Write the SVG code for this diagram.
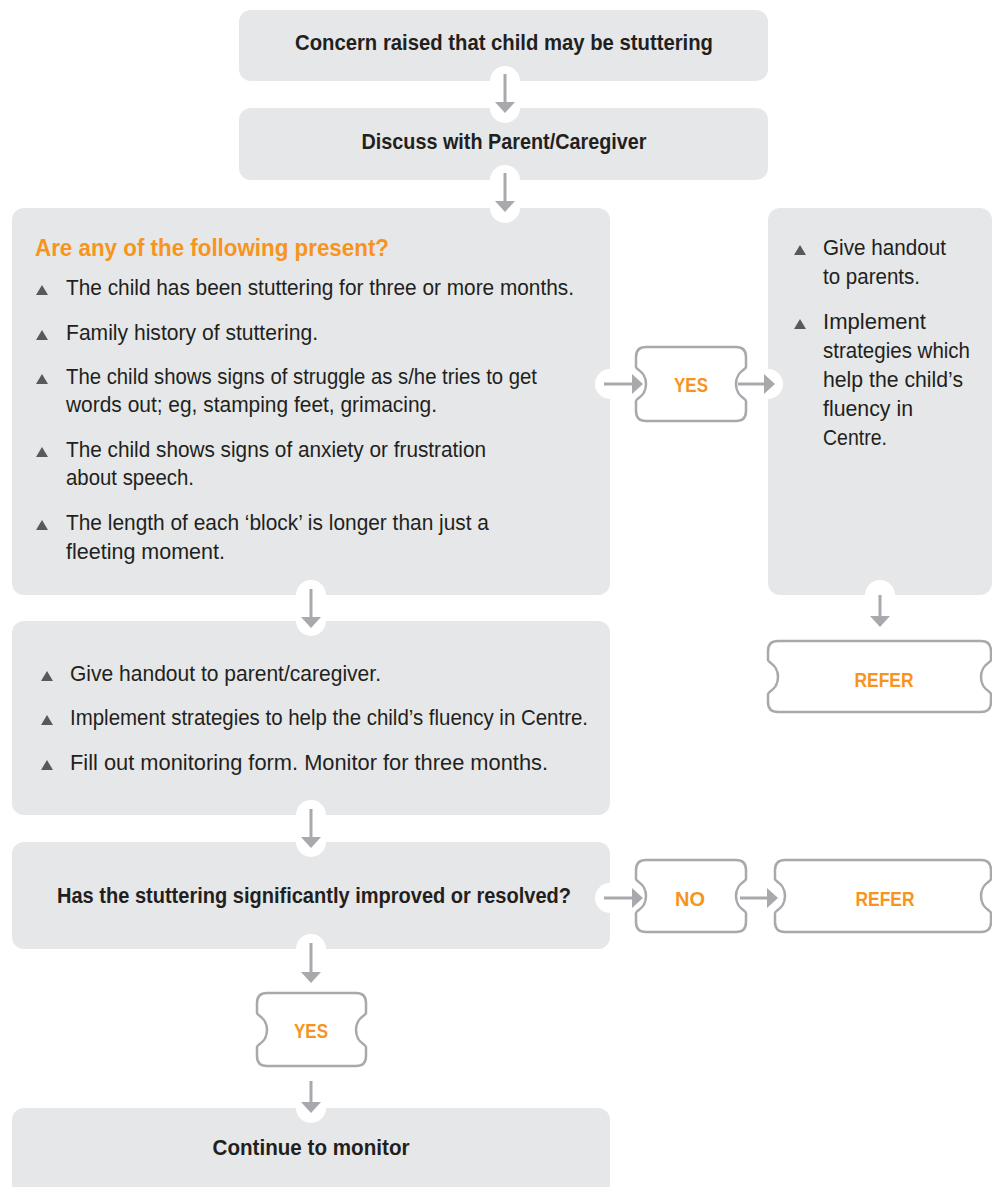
<svg xmlns="http://www.w3.org/2000/svg" width="992" height="1187" viewBox="0 0 992 1187">
<defs>
<style>
.box{fill:#e6e7e8;}
.hole{fill:#ffffff;}
.ticket{fill:#ffffff;stroke:#a7a9ac;stroke-width:2.5;}
.t{font-family:"Liberation Sans",Arial,sans-serif;font-size:22px;fill:#231f20;}
.b{font-family:"Liberation Sans",Arial,sans-serif;font-size:21.5px;font-weight:bold;fill:#231f20;text-anchor:middle;}
.h{font-family:"Liberation Sans",Arial,sans-serif;font-size:23px;font-weight:bold;fill:#f7941d;}
.o{font-family:"Liberation Sans",Arial,sans-serif;font-size:21px;font-weight:bold;fill:#f7941d;text-anchor:middle;}
.bul{fill:#58595b;}
.arr{stroke:#a7a9ac;stroke-width:3;fill:none;marker-end:url(#ah);}
</style>
<marker id="ah" markerUnits="userSpaceOnUse" markerWidth="12" markerHeight="22" viewBox="0 0 12 22" refX="0" refY="11" orient="auto">
<path d="M0,1 L11,11 L0,21 Z" fill="#a7a9ac"/>
</marker>
<polygon id="tri" points="-6,0 6,0 0,-10"/>
</defs>
<rect width="992" height="1187" fill="#ffffff"/>

<g id="n1">
<rect class="box" x="239" y="10" width="529" height="71" rx="12"/>
<text class="b" x="504" y="50" textLength="418" lengthAdjust="spacingAndGlyphs">Concern raised that child may be stuttering</text>
</g>
<g id="n2">
<rect class="box" x="239" y="108" width="529" height="72" rx="12"/>
<text class="b" x="504" y="149" textLength="285" lengthAdjust="spacingAndGlyphs">Discuss with Parent/Caregiver</text>
</g>
<g id="n3">
<rect class="box" x="12" y="208" width="598" height="387" rx="12"/>
<text class="h" x="35" y="256" textLength="354" lengthAdjust="spacingAndGlyphs">Are any of the following present?</text>
<use href="#tri" class="bul" x="42" y="295"/>
<text class="t" x="66" y="295" textLength="508" lengthAdjust="spacingAndGlyphs">The child has been stuttering for three or more months.</text>
<use href="#tri" class="bul" x="42" y="340"/>
<text class="t" x="66" y="340" textLength="252" lengthAdjust="spacingAndGlyphs">Family history of stuttering.</text>
<use href="#tri" class="bul" x="42" y="384"/>
<text class="t" x="66" y="384" textLength="471" lengthAdjust="spacingAndGlyphs">The child shows signs of struggle as s/he tries to get</text>
<text class="t" x="66" y="412" textLength="371" lengthAdjust="spacingAndGlyphs">words out; eg, stamping feet, grimacing.</text>
<use href="#tri" class="bul" x="42" y="457"/>
<text class="t" x="66" y="457" textLength="420" lengthAdjust="spacingAndGlyphs">The child shows signs of anxiety or frustration</text>
<text class="t" x="66" y="485" textLength="128" lengthAdjust="spacingAndGlyphs">about speech.</text>
<use href="#tri" class="bul" x="42" y="530"/>
<text class="t" x="66" y="530" textLength="423" lengthAdjust="spacingAndGlyphs">The length of each ‘block’ is longer than just a</text>
<text class="t" x="66" y="559" textLength="159" lengthAdjust="spacingAndGlyphs">fleeting moment.</text>
</g>
<g id="n4">
<rect class="box" x="768" y="208" width="224" height="387" rx="12"/>
<use href="#tri" class="bul" x="800" y="255"/>
<text class="t" x="823" y="255" textLength="123" lengthAdjust="spacingAndGlyphs">Give handout</text>
<text class="t" x="823" y="284" textLength="97" lengthAdjust="spacingAndGlyphs">to parents.</text>
<use href="#tri" class="bul" x="800" y="329"/>
<text class="t" x="823" y="329" textLength="103" lengthAdjust="spacingAndGlyphs">Implement</text>
<text class="t" x="823" y="358" textLength="147" lengthAdjust="spacingAndGlyphs">strategies which</text>
<text class="t" x="823" y="387" textLength="140" lengthAdjust="spacingAndGlyphs">help the child’s</text>
<text class="t" x="823" y="416" textLength="90" lengthAdjust="spacingAndGlyphs">fluency in</text>
<text class="t" x="823" y="445" textLength="64" lengthAdjust="spacingAndGlyphs">Centre.</text>
</g>
<g id="n5">
<rect class="box" x="12" y="621" width="598" height="194" rx="12"/>
<use href="#tri" class="bul" x="47" y="681"/>
<text class="t" x="70" y="681" textLength="311" lengthAdjust="spacingAndGlyphs">Give handout to parent/caregiver.</text>
<use href="#tri" class="bul" x="47" y="725"/>
<text class="t" x="70" y="725" textLength="518" lengthAdjust="spacingAndGlyphs">Implement strategies to help the child’s fluency in Centre.</text>
<use href="#tri" class="bul" x="47" y="770"/>
<text class="t" x="70" y="770" textLength="478" lengthAdjust="spacingAndGlyphs">Fill out monitoring form. Monitor for three months.</text>
</g>
<g id="n6">
<rect class="box" x="12" y="842" width="598" height="107" rx="12"/>
<text class="b" x="314" y="903" textLength="514" lengthAdjust="spacingAndGlyphs">Has the stuttering significantly improved or resolved?</text>
</g>
<g id="n7">
<rect class="box" x="12" y="1108" width="598" height="90" rx="12"/>
<text class="b" x="311" y="1155" textLength="197" lengthAdjust="spacingAndGlyphs">Continue to monitor</text>
</g>

<g id="holes">
<circle class="hole" cx="505" cy="81" r="15"/>
<circle class="hole" cx="505" cy="108" r="15"/>
<circle class="hole" cx="505" cy="180" r="15"/>
<circle class="hole" cx="505" cy="208" r="15"/>
<circle class="hole" cx="311" cy="595" r="15"/>
<circle class="hole" cx="311" cy="621" r="15"/>
<circle class="hole" cx="311" cy="815" r="15"/>
<circle class="hole" cx="311" cy="842" r="15"/>
<circle class="hole" cx="311" cy="949" r="15"/>
<circle class="hole" cx="311" cy="1108" r="15"/>
<circle class="hole" cx="880" cy="595" r="15"/>
<circle class="hole" cx="610" cy="384" r="15"/>
<circle class="hole" cx="768" cy="384" r="15"/>
<circle class="hole" cx="610" cy="898" r="15"/>
</g>

<g id="yes1">
<path class="ticket" d="M646,347 H736 Q746,347 746,357 V367 C746,370 736,371 736,384 C736,397 746,398 746,401 V411 Q746,421 736,421 H646 Q636,421 636,411 V401 C636,398 646,397 646,384 C646,371 636,370 636,367 V357 Q636,347 646,347 Z"/>
<text class="o" x="691" y="392" textLength="34" lengthAdjust="spacingAndGlyphs">YES</text>
</g>
<g id="refer1">
<path class="ticket" d="M778,641 H981 Q991,641 991,651 V660 C991,663 981,664 981,677 C981,690 991,691 991,694 V702 Q991,712 981,712 H778 Q768,712 768,702 V694 C768,691 778,690 778,677 C778,664 768,663 768,660 V651 Q768,641 778,641 Z"/>
<text class="o" x="884" y="687" textLength="59" lengthAdjust="spacingAndGlyphs">REFER</text>
</g>
<g id="no">
<path class="ticket" d="M646,860 H736 Q746,860 746,870 V879 C746,882 736,883 736,896 C736,909 746,910 746,913 V922 Q746,932 736,932 H646 Q636,932 636,922 V913 C636,910 646,909 646,896 C646,883 636,882 636,879 V870 Q636,860 646,860 Z"/>
<text class="o" x="690" y="906" textLength="30" lengthAdjust="spacingAndGlyphs">NO</text>
</g>
<g id="refer2">
<path class="ticket" d="M785,860 H981 Q991,860 991,870 V879 C991,882 981,883 981,896 C981,909 991,910 991,913 V922 Q991,932 981,932 H785 Q775,932 775,922 V913 C775,910 785,909 785,896 C785,883 775,882 775,879 V870 Q775,860 785,860 Z"/>
<text class="o" x="885" y="906" textLength="59" lengthAdjust="spacingAndGlyphs">REFER</text>
</g>
<g id="yes2">
<path class="ticket" d="M267,993 H356 Q366,993 366,1003 V1013 C366,1016 356,1017 356,1030 C356,1043 366,1044 366,1047 V1056 Q366,1066 356,1066 H267 Q257,1066 257,1056 V1047 C257,1044 267,1043 267,1030 C267,1017 257,1016 257,1013 V1003 Q257,993 267,993 Z"/>
<text class="o" x="311" y="1038" textLength="34" lengthAdjust="spacingAndGlyphs">YES</text>
</g>

<g id="connectors">
<line class="arr" x1="505" y1="74" x2="505" y2="102"/>
<line class="arr" x1="505" y1="173" x2="505" y2="201"/>
<line class="arr" x1="311" y1="589" x2="311" y2="617"/>
<line class="arr" x1="311" y1="809" x2="311" y2="837"/>
<line class="arr" x1="311" y1="943" x2="311" y2="972"/>
<line class="arr" x1="311" y1="1081" x2="311" y2="1102"/>
<line class="arr" x1="880" y1="595" x2="880" y2="616"/>
<line class="arr" x1="604" y1="384" x2="632" y2="384"/>
<line class="arr" x1="738" y1="384" x2="764" y2="384"/>
<line class="arr" x1="604" y1="898" x2="632" y2="898"/>
<line class="arr" x1="740" y1="898" x2="767" y2="898"/>
</g>
</svg>
